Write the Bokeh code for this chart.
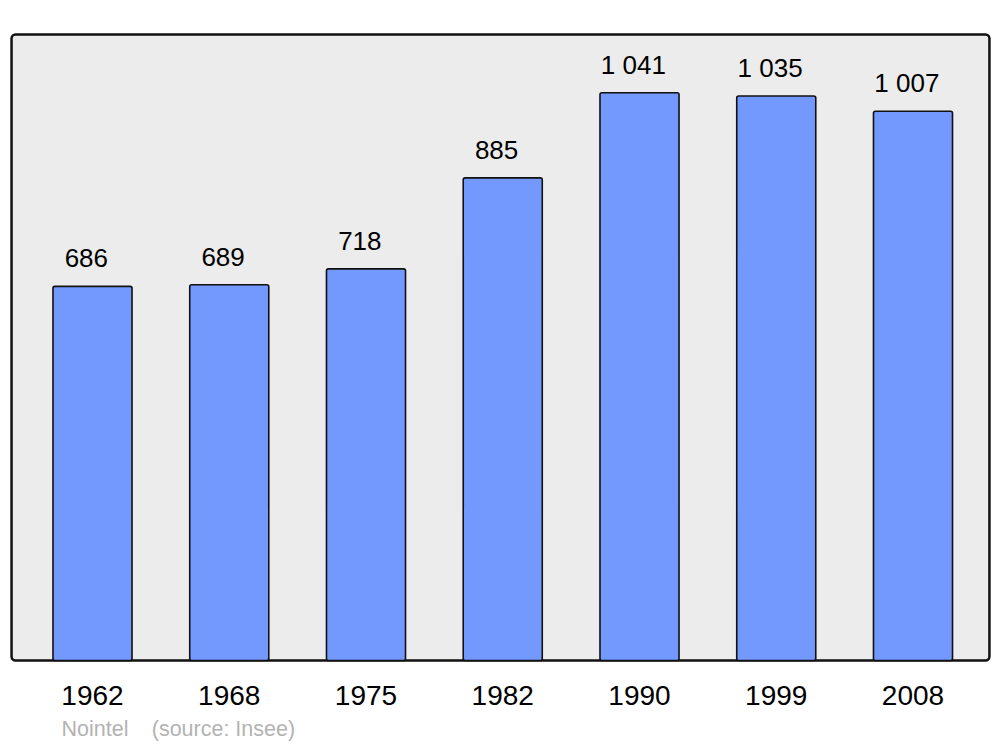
from bokeh.plotting import figure
from bokeh.models import Range1d, FixedTicker, BoxAnnotation, Title, ColumnDataSource
from bokeh.core.properties import value
from bokeh.embed import file_html
from bokeh.resources import INLINE

years = ["1962", "1968", "1975", "1982", "1990", "1999", "2008"]
population = [686, 689, 718, 885, 1041, 1035, 1007]
footer = "Nointel\u2003\u200a(source: Insee)"

FONT = "Liberation Sans"
xs = list(range(len(years)))
labels = [f"{v:,}".replace(",", " ") for v in population]
src = ColumnDataSource(dict(x=xs, top=population, label=labels,
                            lx=[x - 0.045 for x in xs]))

p = figure(width=1000, height=747, output_backend="svg", toolbar_location=None,
           x_range=Range1d(-0.6289, 6.596), y_range=Range1d(-9.17, 1157.0),
           min_border_left=6, min_border_right=6, min_border_top=29, min_border_bottom=82)
p.background_fill_color = None
p.border_fill_color = "white"
p.outline_line_color = None
p.grid.visible = False
p.yaxis.visible = False

bg = BoxAnnotation(left=-0.592, right=6.559, bottom=0, top=1147.8,
                   fill_color="#ececec", fill_alpha=1, line_color="#111111", line_alpha=1,
                   line_width=2.5, border_radius=4, level="underlay")
p.add_layout(bg)

p.vbar(x="x", top="top", width=0.578, bottom=0, source=src,
       fill_color="#7399ff", line_color="#111111", line_width=1.6, border_radius=2)

p.text(x="lx", y="top", text="label", source=src, text_align="center",
       text_baseline="middle", y_offset=-28, text_font=value(FONT),
       text_font_size="26px", text_color="black")

ax = p.xaxis[0]
ax.ticker = FixedTicker(ticks=xs)
ax.major_label_overrides = {i: y for i, y in enumerate(years)}
ax.axis_line_color = None
ax.major_tick_line_color = None
ax.minor_tick_line_color = None
ax.major_label_text_font = FONT
ax.major_label_text_font_size = "28px"
ax.major_label_text_color = "black"
ax.major_label_standoff = 14

p.add_layout(Title(text=footer, align="left", offset=55, standoff=14,
                   text_font=FONT, text_font_size="21.5px", text_color="#b3b3b3",
                   text_font_style="normal"), "below")

open("out.html", "w").write(file_html(p, INLINE))
